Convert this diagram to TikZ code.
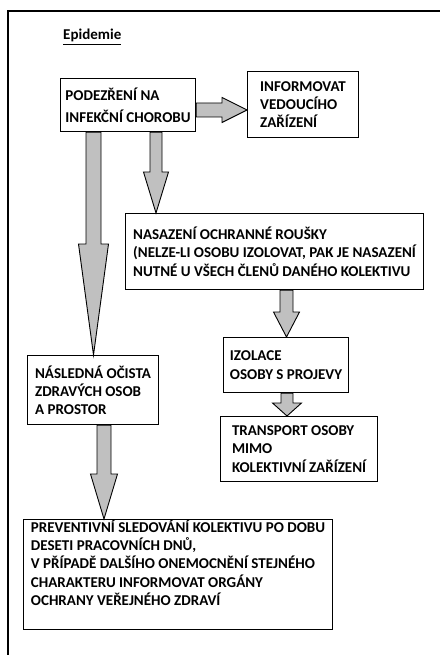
\documentclass[tikz,border=0pt]{standalone}
\usepackage{fontspec}
\setmainfont{Carlito}
\usetikzlibrary{calc}
\definecolor{arrowgray}{RGB}{192,192,192}
% block arrow downwards: from, to, x, shaft half width, head half width, head length
\newcommand{\downblock}[6]{\draw[blk] let \p1=(#1.south -| #3,0), \p2=(#2.north -| #3,0) in (\x1-#4,\y1) -- (\x1-#4,\y2+#6) -- (\x1-#5,\y2+#6) -- (\p2) -- (\x1+#5,\y2+#6) -- (\x1+#4,\y2+#6) -- (\x1+#4,\y1) -- cycle;}

\begin{document}
\begin{tikzpicture}[x=1pt, y=-1pt,
  box/.style={draw, line width=1.1pt, align=left, anchor=north west, inner sep=0pt, font=\bfseries\fontsize{15}{18.3}\selectfont},
  blk/.style={draw, line width=0.9pt, fill=arrowgray, line join=miter}]
\useasboundingbox (0,0) rectangle (440,655);
\draw[line width=2pt] (8,655) -- (8,11) -- (440,11);
\node[anchor=base west, inner sep=0pt, font=\bfseries\fontsize{15}{18}\selectfont] (title) at (63,40) {\underline{Epidemie}};
\node[box, minimum width=135pt, minimum height=53pt] (pod) at (60,78) {PODEZŘENÍ NA\\[3.7pt]INFEKČNÍ CHOROBU};
\node[box, minimum width=111pt, minimum height=66pt] (inf) at (247,71) {INFORMOVAT\\VEDOUCÍHO\\ZAŘÍZENÍ};
\node[box, minimum width=298pt, minimum height=76pt] (nas) at (125,213) {NASAZENÍ OCHRANNÉ ROUŠKY\\(NELZE-LI OSOBU IZOLOVAT, PAK JE NASAZENÍ\\NUTNÉ U VŠECH ČLENŮ DANÉHO KOLEKTIVU};
\node[box, minimum width=125pt, minimum height=55pt] (izo) at (223,337) {IZOLACE\\OSOBY S PROJEVY};
\node[box, minimum width=131pt, minimum height=69pt] (nasl) at (27,355) {NÁSLEDNÁ OČISTA\\ZDRAVÝCH OSOB\\A PROSTOR};
\node[box, minimum width=157pt, minimum height=65pt] (tra) at (220,416) {TRANSPORT OSOBY\\MIMO\\KOLEKTIVNÍ ZAŘÍZENÍ};
\node[box, minimum width=309pt, minimum height=110pt] (prev) at (23,519) {PREVENTIVNÍ SLEDOVÁNÍ KOLEKTIVU PO DOBU\\DESETI PRACOVNÍCH DNŮ,\\V PŘÍPADĚ DALŠÍHO ONEMOCNĚNÍ STEJNÉHO\\CHARAKTERU INFORMOVAT ORGÁNY\\OCHRANY VEŘEJNÉHO ZDRAVÍ\\[6pt]};
\draw[blk] let \p1=(pod.east |- 0,110), \p2=(inf.west |- 0,110) in (\x1,\y1+7) -- (\x2-25,\y1+7) -- (\x2-25,\y1+12.5) -- (\p2) -- (\x2-25,\y1-12.5) -- (\x2-25,\y1-7) -- (\x1,\y1-7) -- cycle;
\downblock{pod}{nas}{156}{6}{12.5}{41}
\downblock{pod}{nasl}{93.5}{7.5}{15}{111}
\downblock{nas}{izo}{286.5}{6.5}{13}{25}
\downblock{izo}{tra}{287}{6}{14.5}{13}
\downblock{nasl}{prev}{104}{7}{13.5}{45}
\end{tikzpicture}
\end{document}
